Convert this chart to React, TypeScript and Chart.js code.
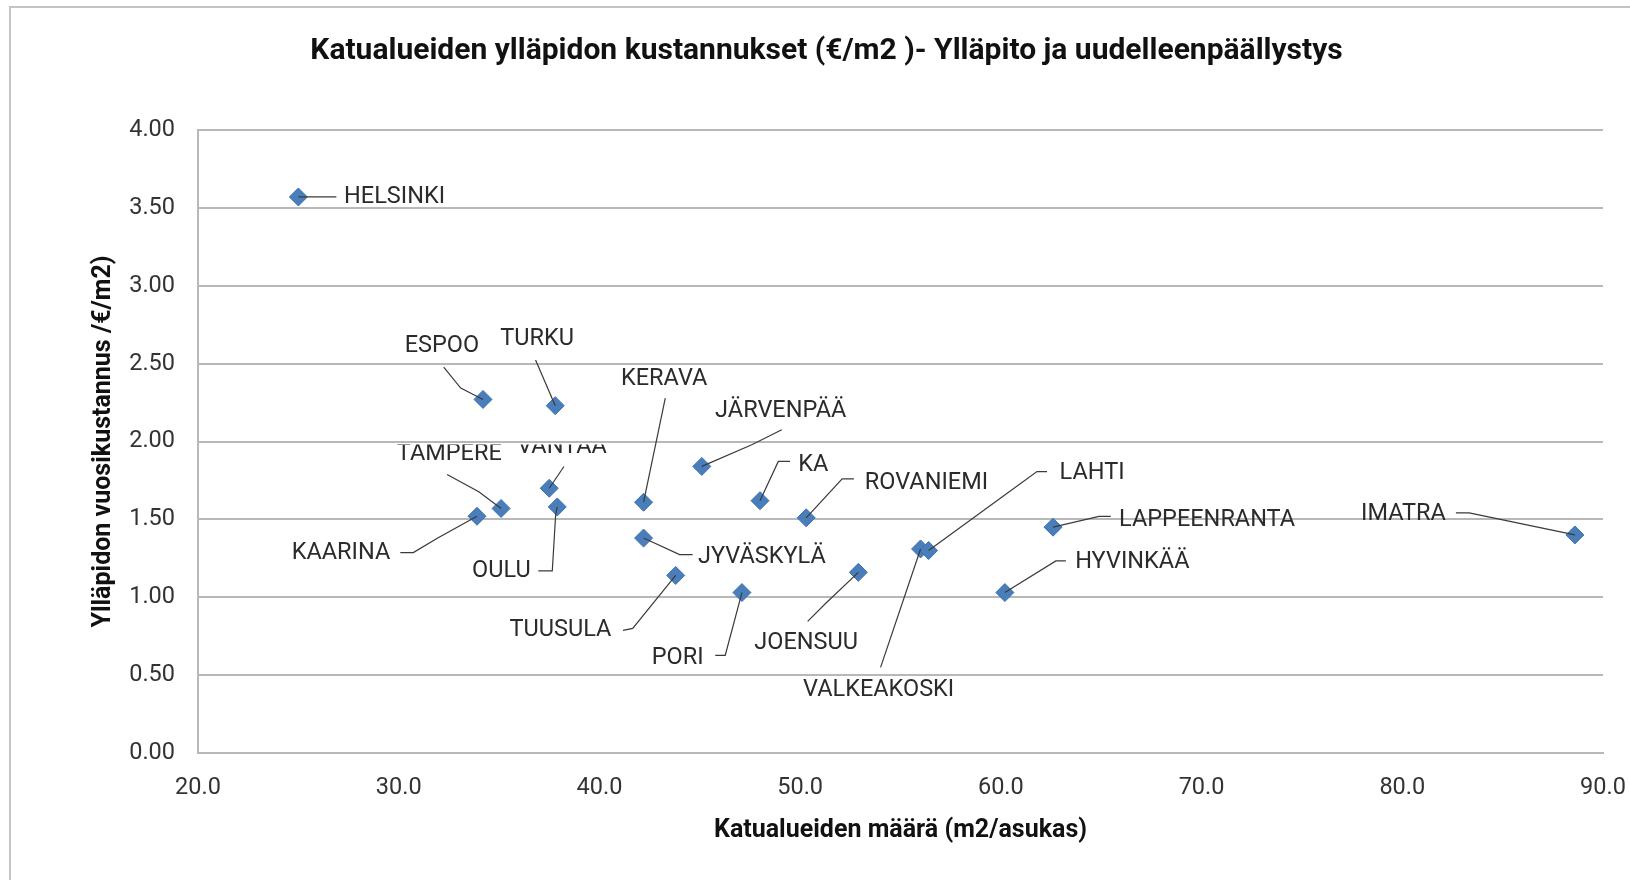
import { useEffect, useRef } from "react";
import { Chart, registerables } from "chart.js";

Chart.register(...registerables);

// ---- data ----
const cities = [
  "HELSINKI", "ESPOO", "TURKU", "TAMPERE", "VANTAA", "OULU", "KAARINA",
  "KERAVA", "JYVÄSKYLÄ", "TUUSULA", "JÄRVENPÄÄ", "KA", "PORI", "ROVANIEMI",
  "JOENSUU", "VALKEAKOSKI", "LAHTI", "LAPPEENRANTA", "HYVINKÄÄ", "IMATRA",
];
const streetArea = [
  25.0, 34.2, 37.8, 35.1, 37.5, 37.9, 33.9,
  42.2, 42.2, 43.8, 45.1, 48.0, 47.1, 50.3,
  52.9, 56.0, 56.4, 62.6, 60.2, 88.6,
];
const upkeepCost = [
  3.57, 2.27, 2.23, 1.57, 1.70, 1.58, 1.52,
  1.61, 1.38, 1.14, 1.84, 1.62, 1.03, 1.51,
  1.16, 1.31, 1.30, 1.45, 1.03, 1.40,
];
const chartTitle = "Katualueiden ylläpidon kustannukset (€/m2 )- Ylläpito ja uudelleenpäällystys";
const xAxisTitle = "Katualueiden määrä (m2/asukas)";
const yAxisTitle = "Ylläpidon vuosikustannus /€/m2)";

// ---- label placement (pixel offsets from each marker; styling only) ----
type LabelPos = { dx: number; dy: number; align: "left" | "right"; cut?: boolean };
const labelPos: LabelPos[] = [
  { dx: 45.7, dy: 0, align: "left" },
  { dx: -78.3, dy: -53.3, align: "left" },
  { dx: -55, dy: -66.7, align: "left" },
  { dx: -104.3, dy: -54, align: "left", cut: true },
  { dx: -32, dy: -40.7, align: "left", cut: true },
  { dx: -26.6, dy: 64, align: "right" },
  { dx: -86.7, dy: 37, align: "right" },
  { dx: -22.6, dy: -123, align: "left" },
  { dx: 54.5, dy: 19.3, align: "left" },
  { dx: -64.3, dy: 55, align: "right" },
  { dx: 13.3, dy: -55, align: "left" },
  { dx: 38.3, dy: -36, align: "left" },
  { dx: -38.4, dy: 66, align: "right" },
  { dx: 58.7, dy: -34.6, align: "left" },
  { dx: -104, dy: 70.7, align: "left" },
  { dx: -117.5, dy: 140.7, align: "left" },
  { dx: 131, dy: -77.3, align: "left" },
  { dx: 66, dy: -7.4, align: "left" },
  { dx: 70.3, dy: -30, align: "left" },
  { dx: -129, dy: -21, align: "right" },
];
const leaderPaths: number[][][] = [
  [[38, 0], [0, 0]],
  [[-39.3, -32.3], [-22.3, -11.3], [0, 0]],
  [[-19.7, -45.7], [0, 0]],
  [[-54, -34], [-22.3, -16.7], [0, 0]],
  [[14.7, -21.7], [0, 0]],
  [[-19, 64], [-5, 64], [-1.6, 7.3], [0, 0]],
  [[-76.7, 36.3], [-63.7, 36.3], [-39.7, 22], [0, 0]],
  [[21.7, -104], [0, 0]],
  [[0, 0], [36, 16.6], [49, 16.6]],
  [[-52.7, 55], [-43, 53], [0, 0]],
  [[80, -36.7], [50, -21.7], [0, 0]],
  [[30, -39.3], [18.3, -39.3], [0, 0]],
  [[-26.7, 62.7], [-16.7, 62.7], [0, 0]],
  [[47.7, -39], [36, -39], [0, 0]],
  [[-50.7, 49], [-32.3, 30.7], [0, 0]],
  [[-40, 118.4], [0, 0]],
  [[118.4, -79], [108.4, -79], [71.7, -52.3], [0, 0]],
  [[57.7, -10.7], [46, -10.7], [0, 0]],
  [[61, -31.7], [51, -31.7], [0, 0]],
  [[-119, -22], [-105.7, -22], [0, 0]],
];

const FONT = "Roboto, 'Noto Sans', sans-serif";

const framePlugin = {
  id: "frame",
  beforeDraw(chart: any) {
    const { ctx, width, height } = chart;
    ctx.save();
    ctx.fillStyle = "#ffffff";
    ctx.fillRect(0, 0, width, height);
    ctx.strokeStyle = "#c4c4c4";
    ctx.lineWidth = 2;
    ctx.beginPath();
    ctx.moveTo(10, height + 2);
    ctx.lineTo(10, 7);
    ctx.lineTo(width + 2, 7);
    ctx.stroke();
    ctx.restore();
  },
};

const cityLabelPlugin = {
  id: "cityLabels",
  afterDatasetsDraw(chart: any) {
    const { ctx } = chart;
    const meta = chart.getDatasetMeta(0);
    const yScale = chart.scales.y;
    ctx.save();
    // leader lines
    ctx.strokeStyle = "#3a3a3a";
    ctx.lineWidth = 1.2;
    meta.data.forEach((el: any, i: number) => {
      const path = leaderPaths[i];
      if (!path) return;
      ctx.beginPath();
      path.forEach(([dx, dy], k) => {
        const px = el.x + dx;
        const py = el.y + dy;
        if (k === 0) ctx.moveTo(px, py);
        else ctx.lineTo(px, py);
      });
      ctx.stroke();
    });
    // labels
    ctx.font = `23.5px ${FONT}`;
    ctx.fillStyle = "#2b2b2b";
    ctx.textBaseline = "middle";
    meta.data.forEach((el: any, i: number) => {
      const p = labelPos[i];
      ctx.save();
      if (p.cut) {
        const cutY = yScale.getPixelForValue(2) + 3;
        ctx.beginPath();
        ctx.rect(0, cutY, chart.width, chart.height);
        ctx.clip();
      }
      ctx.textAlign = p.align;
      ctx.fillText(cities[i], el.x + p.dx, el.y + p.dy);
      ctx.restore();
    });
    ctx.restore();
  },
};

export default function App() {
  const canvasRef = useRef<HTMLCanvasElement | null>(null);

  useEffect(() => {
    const canvas = canvasRef.current;
    if (!canvas) return;
    const chart = new Chart(canvas, {
      type: "scatter",
      data: {
        datasets: [
          {
            label: "Kaupungit",
            data: streetArea.map((x, i) => ({ x, y: upkeepCost[i] })),
            pointStyle: "rectRot",
            pointRadius: 9,
            pointHoverRadius: 9,
            backgroundColor: "#4a7ebb",
            borderColor: "#3f72ad",
            borderWidth: 1,
          },
        ],
      },
      options: {
        responsive: false,
        animation: false,
        devicePixelRatio: 1,
        events: [],
        layout: { padding: { left: 50, right: 27, top: 0, bottom: 0 } },
        plugins: {
          legend: { display: false },
          tooltip: { enabled: false },
          title: {
            display: true,
            text: chartTitle,
            color: "#111111",
            font: { family: FONT, size: 30, weight: "bold", lineHeight: 1.2 },
            padding: { top: 33, bottom: 61 },
          },
        },
        scales: {
          x: {
            type: "linear",
            min: 20,
            max: 90,
            afterFit: (s: any) => {
              s.height = 127;
              s.paddingLeft = 0;
              s.paddingRight = 0;
            },
            ticks: {
              stepSize: 10,
              padding: 21,
              color: "#333333",
              font: { family: FONT, size: 23.5 },
              callback: (v: any) => Number(v).toFixed(1),
            },
            grid: { drawOnChartArea: false, drawTicks: false, color: "#b8b8b8" },
            border: { display: true, color: "#b8b8b8", width: 2 },
            title: {
              display: true,
              text: xAxisTitle,
              color: "#111111",
              font: { family: FONT, size: 25, weight: "bold", lineHeight: 1.2 },
              padding: { top: 0, bottom: 34 },
            },
          },
          y: {
            type: "linear",
            min: 0,
            max: 4,
            afterFit: (s: any) => {
              s.width = 148;
              s.paddingTop = 0;
              s.paddingBottom = 0;
            },
            ticks: {
              stepSize: 0.5,
              padding: 23,
              color: "#333333",
              font: { family: FONT, size: 23.5 },
              callback: (v: any) => Number(v).toFixed(2),
            },
            grid: { color: "#b8b8b8", lineWidth: 2, drawTicks: false },
            border: { display: true, color: "#b8b8b8", width: 2 },
            title: {
              display: true,
              text: yAxisTitle,
              color: "#111111",
              font: { family: FONT, size: 25, weight: "bold", lineHeight: 1.2 },
              padding: { top: 39, bottom: 0 },
            },
          },
        },
      },
      plugins: [framePlugin, cityLabelPlugin],
    });
    return () => chart.destroy();
  }, []);

  return (
    <div style={{ position: "fixed", left: 0, top: 0, width: 1630, height: 880, background: "#fff" }}>
      <canvas ref={canvasRef} width={1630} height={880} style={{ width: 1630, height: 880, display: "block" }} />
    </div>
  );
}
